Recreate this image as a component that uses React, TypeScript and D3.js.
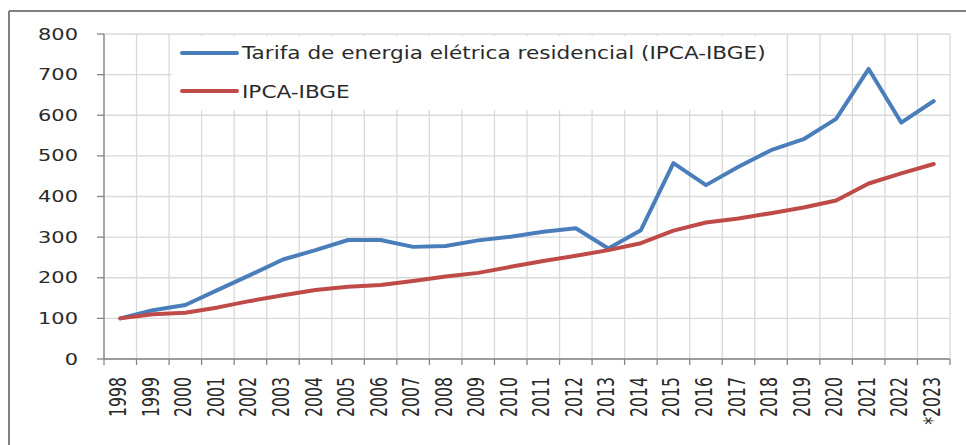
import React from 'react';
import * as d3 from 'd3';

const years = ['1998','1999','2000','2001','2002','2003','2004','2005','2006','2007','2008','2009','2010','2011','2012','2013','2014','2015','2016','2017','2018','2019','2020','2021','2022','2023'];
const yearLabels = ['1998','1999','2000','2001','2002','2003','2004','2005','2006','2007','2008','2009','2010','2011','2012','2013','2014','2015','2016','2017','2018','2019','2020','2021','2022','*2023'];
const tarifa = [100,120,133,170,207,245,268,293,293,276,278,292,301,313,322,272,317,482,428,473,514,541,591,714,582,635];
const ipca = [100,110,114,127,143,157,170,178,182,192,203,212,227,241,254,268,285,316,336,346,359,373,390,432,457,480];
const yTicks = [0,100,200,300,400,500,600,700,800];
const seriesNames = ['Tarifa de energia elétrica residencial (IPCA-IBGE)', 'IPCA-IBGE'];
const seriesColors = ['#4a7ebb', '#be4b48'];

const W = 966, H = 445;
const left = 104, right = 950, top = 34, bottom = 359;
const FONT = '"DejaVu Sans", sans-serif';

export default function App() {
  const x = d3.scaleBand<string>().domain(years).range([left, right]).padding(0);
  const y = d3.scaleLinear().domain([0, 800]).range([bottom, top]);
  const bw = x.bandwidth();
  const cx = (yr: string) => (x(yr) as number) + bw / 2;
  const line = d3.line<number>().x((_, i) => cx(years[i])).y((v) => y(v));
  const boundaries = years.map((yr) => x(yr) as number).concat([right]);
  const data = [tarifa, ipca];

  return (
    <svg width={W} height={H} style={{ position: 'absolute', left: 0, top: 0, background: '#fff' }}>
      <rect x={0} y={0} width={W} height={H} fill="#fff" />
      {/* outer border */}
      <line x1={9} y1={11} x2={W} y2={11} stroke="#808080" strokeWidth={2} />
      <line x1={9} y1={11} x2={9} y2={H} stroke="#808080" strokeWidth={2} />
      {/* gridlines */}
      {yTicks.map((t) => (
        <line key={'h' + t} x1={left} x2={right} y1={y(t)} y2={y(t)} stroke="#d9d9d9" strokeWidth={1.3} />
      ))}
      {boundaries.map((b, i) => (
        <line key={'v' + i} x1={b} x2={b} y1={top} y2={bottom} stroke="#d9d9d9" strokeWidth={1.3} />
      ))}
      {/* legend background */}
      <rect x={172} y={36} width={613} height={74} fill="#fff" />
      {/* axes */}
      <line x1={left} x2={left} y1={top} y2={bottom} stroke="#868686" strokeWidth={1.3} />
      {yTicks.map((t) => (
        <line key={'yt' + t} x1={left - 7} x2={left} y1={y(t)} y2={y(t)} stroke="#868686" strokeWidth={1.3} />
      ))}
      <line x1={left} x2={right} y1={bottom} y2={bottom} stroke="#868686" strokeWidth={1.3} />
      {boundaries.map((b, i) => (
        <line key={'xt' + i} x1={b} x2={b} y1={bottom} y2={bottom + 6} stroke="#868686" strokeWidth={1.3} />
      ))}
      {/* y labels */}
      {yTicks.map((t) => (
        <text key={'yl' + t} transform={`translate(78,${y(t)}) scale(1.35,1)`} textAnchor="end" dy="0.36em"
          fontFamily={FONT} fontSize={15.5} fill="#2a2a2a">{t}</text>
      ))}
      {/* x labels */}
      {yearLabels.map((lab, i) => (
        <text key={'xl' + i} transform={`translate(${cx(years[i]) + 6},377) scale(1.45,1) rotate(-90)`} textAnchor="end"
          fontFamily={FONT} fontSize={15.7} fill="#2a2a2a">{lab}</text>
      ))}
      {/* series */}
      {data.map((s, k) => (
        <path key={'s' + k} d={line(s) as string} fill="none" stroke={seriesColors[k]} strokeWidth={4}
          strokeLinejoin="round" strokeLinecap="round" />
      ))}
      {/* legend */}
      {seriesNames.map((n, k) => (
        <g key={'lg' + k}>
          <line x1={182} x2={237} y1={53 + k * 38} y2={53 + k * 38} stroke={seriesColors[k]} strokeWidth={4} strokeLinecap="round" />
          <text transform={`translate(242,${59 + k * 38.5}) scale(1.27,1)`} fontFamily={FONT} fontSize={17} fill="#2a2a2a">{n}</text>
        </g>
      ))}
    </svg>
  );
}
